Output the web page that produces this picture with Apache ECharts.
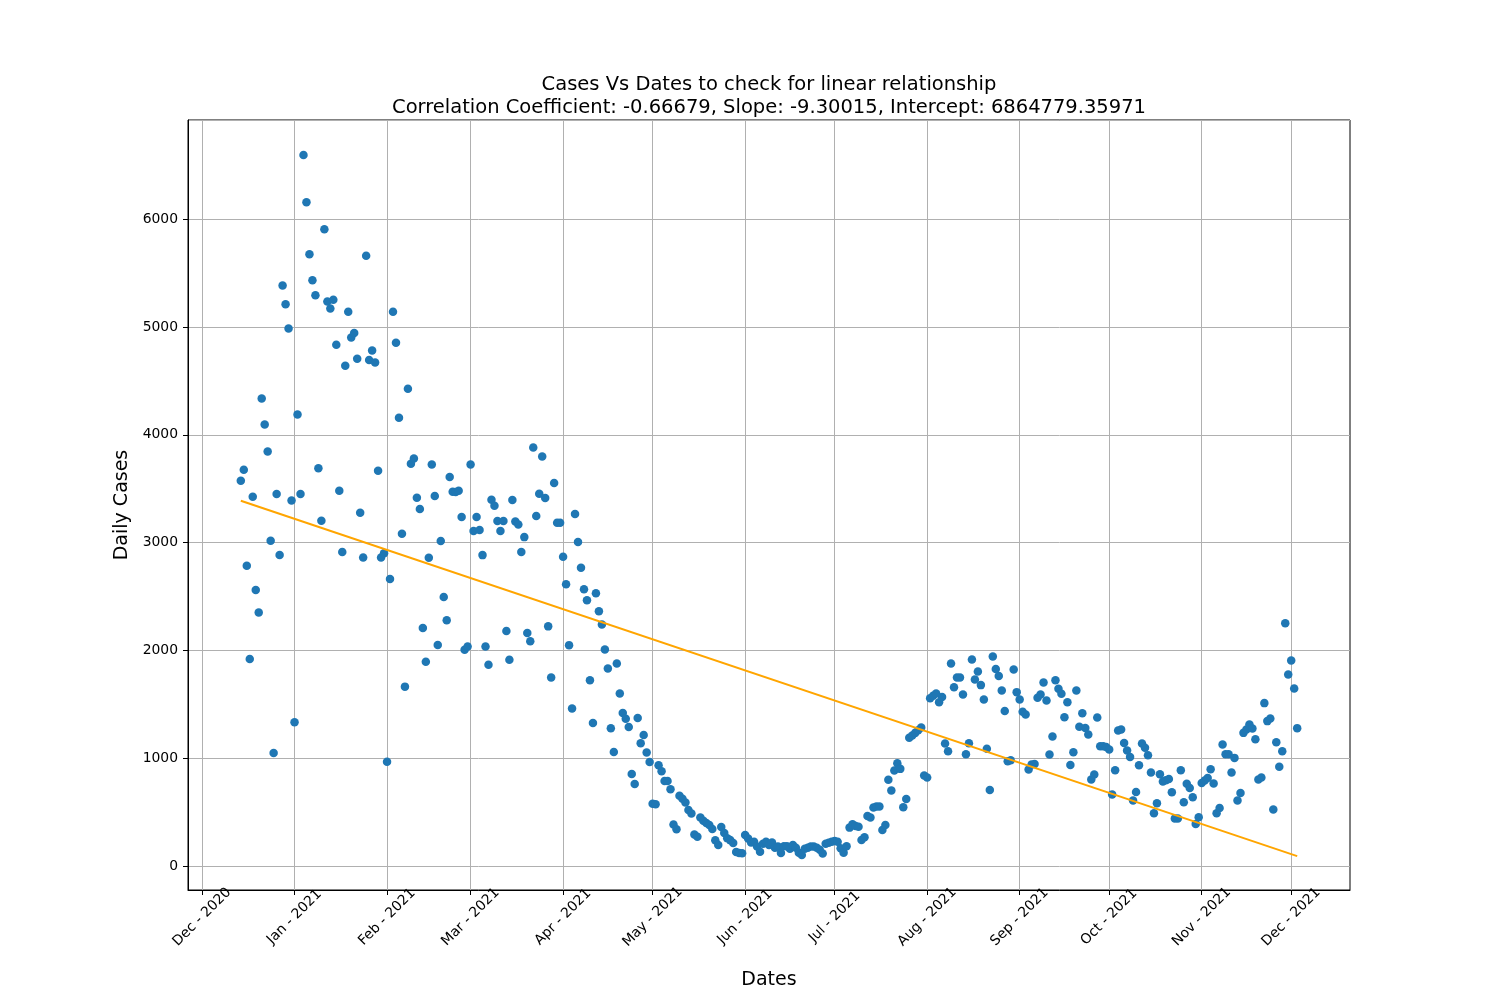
<!DOCTYPE html>
<html>
<head>
<meta charset="utf-8">
<title>Cases Vs Dates</title>
<script src="https://cdn.jsdelivr.net/npm/echarts@6/dist/echarts.min.js"></script>
<style>
  html, body { margin: 0; padding: 0; background: #fff; }
  #chart { width: 1500px; height: 1000px; }
</style>
</head>
<body>
<div id="chart"></div>
<script>
// first day of the series, then one value per day
const startDate = '2020-12-14';
const dailyCases = [
  3575, 3675, 2785, 1921, 3425, 2561, 2351, 4338, 4096, 3846,
  3018, 1048, 3452, 2886, 5386, 5211, 4987, 3390, 1333, 4189,
  3452, 6596, 6158, 5675, 5434, 5294, 3689, 3202, 5908, 5237,
  5173, 5254, 4835, 3481, 2913, 4641, 5141, 4903, 4944, 4706,
  3276, 2861, 5661, 4694, 4782, 4670, 3666, 2861, 2901, 967,
  2663, 5141, 4855, 4158, 3082, 1664, 4428, 3731, 3780, 3417,
  3312, 2208, 1894, 2859, 3724, 3433, 2050, 3014, 2496, 2279,
  3609, 3473, 3470, 3482, 3237, 2006, 2037, 3724, 3107, 3237,
  3116, 2884, 2037, 1867, 3398, 3343, 3200, 3107, 3200, 2180,
  1913, 3395, 3197, 3169, 2912, 3051, 2161, 2084, 3882, 3246,
  3454, 3799, 3414, 2223, 1749, 3554, 3184, 3184, 2868, 2614,
  2049, 1460, 3265, 3005, 2766, 2567, 2465, 1724, 1327, 2530,
  2363, 2241, 2009, 1833, 1277, 1057, 1879, 1601, 1419, 1366,
  1289, 853, 760, 1372, 1138, 1215, 1054, 964, 578, 572,
  934, 878, 788, 788, 711, 386, 340, 652, 624, 590,
  519, 488, 293, 272, 449, 420, 399, 381, 344, 238,
  195, 362, 306, 257, 240, 214, 130, 121, 118, 288,
  254, 217, 226, 180, 133, 207, 226, 195, 217, 170,
  180, 121, 183, 183, 160, 195, 170, 124, 102, 160,
  170, 180, 180, 170, 150, 115, 207, 215, 226, 232,
  226, 164, 124, 183, 356, 387, 370, 365, 241, 266,
  464, 449, 542, 551, 551, 334, 381, 799, 700, 885,
  954, 901, 545, 622, 1190, 1211, 1235, 1260, 1285, 839,
  820, 1557, 1580, 1601, 1520, 1567, 1136, 1065, 1879, 1659,
  1749, 1749, 1591, 1037, 1139, 1916, 1731, 1805, 1678, 1545,
  1087, 706, 1944, 1827, 1762, 1628, 1437, 972, 981, 1824,
  1613, 1545, 1430, 1406, 895, 941, 947, 1560, 1591, 1703,
  1536, 1034, 1201, 1724, 1644, 1598, 1381, 1520, 938, 1056,
  1628, 1291, 1418, 1280, 1220, 802, 848, 1378, 1111, 1111,
  1105, 1080, 663, 889, 1257, 1266, 1142, 1071, 1012, 607,
  687, 935, 1136, 1096, 1028, 867, 489, 582, 851, 783,
  796, 808, 684, 440, 440, 889, 591, 762, 724, 638,
  390, 452, 771, 793, 817, 898, 765, 489, 539, 1127,
  1037, 1037, 867, 1003, 607, 678, 1235, 1266, 1313, 1276,
  1176, 802, 820, 1511, 1344, 1368, 523, 1149, 920, 1065,
  2251, 1777, 1907, 1647, 1279
];

// fitted line, read at its two ends
const fitDates = ['2020-12-14', '2021-12-03'];
const fitValues = [3389, 92];

const tickDates = [
  '2020-12-01', '2021-01-01', '2021-02-01', '2021-03-01', '2021-04-01',
  '2021-05-01', '2021-06-01', '2021-07-01', '2021-08-01', '2021-09-01',
  '2021-10-01', '2021-11-01', '2021-12-01'
];
const tickLabels = [
  'Dec - 2020', 'Jan - 2021', 'Feb - 2021', 'Mar - 2021', 'Apr - 2021',
  'May - 2021', 'Jun - 2021', 'Jul - 2021', 'Aug - 2021', 'Sep - 2021',
  'Oct - 2021', 'Nov - 2021', 'Dec - 2021'
];

const DAY = 86400000;
function ts(s) {
  const p = s.split('-');
  return Date.UTC(+p[0], +p[1] - 1, +p[2]);
}

const t0 = ts(startDate);
const points = dailyCases.map((v, i) => [t0 + i * DAY, v]);
const fitLine = fitDates.map((d, i) => [ts(d), fitValues[i]]);
const tickValues = tickDates.map(ts);

// matplotlib style 5% margins round the data
const xFirst = points[0][0];
const xLast = points[points.length - 1][0];
const xPad = (xLast - xFirst) * 0.05;
const yLo = Math.min(...dailyCases);
const yHi = Math.max(...dailyCases);
const yPad = (yHi - yLo) * 0.05;

const font = 'DejaVu Sans';
const chart = echarts.init(document.getElementById('chart'));

chart.setOption({
  animation: false,
  title: {
    text: 'Cases Vs Dates to check for linear relationship\nCorrelation Coefficient: -0.66679, Slope: -9.30015, Intercept: 6864779.35971',
    left: 764,
    top: 68,
    textAlign: 'center',
    textStyle: { fontFamily: font, fontSize: 19.5, fontWeight: 'normal', color: '#000', lineHeight: 23 }
  },
  grid: {
    left: 188, right: 150, top: 120, bottom: 110,
    show: true, borderColor: '#000', borderWidth: 1, backgroundColor: 'transparent'
  },
  xAxis: {
    type: 'value',
    min: xFirst - xPad,
    max: xLast + xPad,
    name: 'Dates',
    nameLocation: 'middle',
    nameGap: 81,
    nameTextStyle: { fontFamily: font, fontSize: 19, color: '#000' },
    axisLine: { show: true, onZero: false, lineStyle: { color: '#000', width: 1 } },
    axisTick: { show: true, length: 5, customValues: tickValues, lineStyle: { color: '#000' } },
    axisLabel: {
      customValues: tickValues,
      rotate: 45,
      align: 'center',
      verticalAlign: 'middle',
      margin: 27,
      fontFamily: font,
      fontSize: 13.9,
      color: '#000',
      formatter: v => {
        const k = tickValues.indexOf(v);
        return k >= 0 ? tickLabels[k] : '';
      }
    },
    splitLine: { show: true, lineStyle: { color: '#b0b0b0', width: 1 } }
  },
  yAxis: {
    type: 'value',
    min: yLo - yPad,
    max: yHi + yPad,
    splitNumber: 7,
    name: 'Daily Cases',
    nameLocation: 'middle',
    nameGap: 46,
    nameTextStyle: { fontFamily: font, fontSize: 19, color: '#000' },
    axisLine: { show: true, onZero: false, lineStyle: { color: '#000', width: 1 } },
    axisTick: { show: true, length: 5, lineStyle: { color: '#000' } },
    axisLabel: {
      showMinLabel: false,
      showMaxLabel: false,
      margin: 10,
      fontFamily: font,
      fontSize: 13.9,
      color: '#000',
      formatter: v => String(Math.round(v))
    },
    splitLine: { show: true, lineStyle: { color: '#b0b0b0', width: 1 } }
  },
  series: [
    {
      type: 'scatter',
      data: points,
      symbolSize: 8.5,
      itemStyle: { color: '#1f77b4', opacity: 1 },
      z: 2
    },
    {
      type: 'line',
      data: fitLine,
      symbol: 'none',
      lineStyle: { color: '#ffa500', width: 2 },
      z: 3
    }
  ]
});
</script>
</body>
</html>
